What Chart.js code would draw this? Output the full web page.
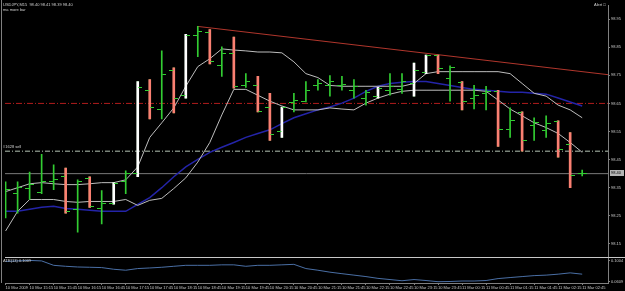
<!DOCTYPE html>
<html>
<head>
<meta charset="utf-8">
<script src="https://cdn.jsdelivr.net/npm/chart.js@4.4.1/dist/chart.umd.min.js"></script>
<style>
  html, body { margin: 0; padding: 0; background: #000; }
  #wrap { position: relative; width: 625px; height: 291px; overflow: hidden; }
  canvas { display: block; }
  .lbl { position: absolute; color: #d0d0d0; font-family: "Liberation Sans", Arial, sans-serif; font-size: 4px; line-height: 4px; white-space: nowrap; }
</style>
</head>
<body>
<div id="wrap">
  <canvas id="fx" width="625" height="291"></canvas>
  <div class="lbl" style="left:3px;top:3px">USDJPY,M15&nbsp; 98.40 98.41 98.39 98.40</div>
  <div class="lbl" style="left:3px;top:8px">ma more bar</div>
  <div class="lbl" style="left:594px;top:3px">Alert &#9633;</div>
  <div class="lbl" style="left:3px;top:145px">#1628 sell</div>
  <div class="lbl" style="left:3px;top:259px">ATR(13) 0.1009</div>
</div>
<script>
// USDJPY M15, 10 Mar 2009 14:45 -> 11 Mar 02:45
const opens  = [98.312, 98.329, 98.347, 98.333, 98.371, 98.389, 98.273, 98.382, 98.276, 98.294,
                98.371, 98.399, 98.697, 98.630, 98.767, 98.679, 98.893, 98.903, 98.784, 98.826,
                98.714, 98.714, 98.634, 98.550, 98.655, 98.658, 98.714, 98.714, 98.714, 98.697,
                98.669, 98.676, 98.697, 98.700, 98.721, 98.760, 98.819, 98.739, 98.725, 98.669,
                98.686, 98.693, 98.556, 98.616, 98.571, 98.553, 98.585, 98.504, 98.402];
const highs  = [98.371, 98.371, 98.406, 98.469, 98.431, 98.420, 98.378, 98.389, 98.340, 98.368,
                98.410, 98.728, 98.735, 98.837, 98.777, 98.896, 98.924, 98.913, 98.851, 98.886,
                98.756, 98.746, 98.686, 98.637, 98.686, 98.728, 98.735, 98.749, 98.746, 98.735,
                98.697, 98.707, 98.756, 98.756, 98.794, 98.822, 98.822, 98.784, 98.728, 98.714,
                98.711, 98.697, 98.634, 98.620, 98.599, 98.606, 98.588, 98.546, 98.413];
const lows   = [98.242, 98.259, 98.308, 98.329, 98.343, 98.259, 98.192, 98.280, 98.221, 98.291,
                98.329, 98.389, 98.595, 98.595, 98.616, 98.669, 98.816, 98.791, 98.746, 98.704,
                98.707, 98.620, 98.518, 98.529, 98.620, 98.655, 98.697, 98.676, 98.697, 98.669,
                98.644, 98.669, 98.679, 98.686, 98.676, 98.756, 98.756, 98.658, 98.627, 98.630,
                98.627, 98.497, 98.529, 98.480, 98.518, 98.529, 98.459, 98.350, 98.392];
const closes = [98.343, 98.350, 98.361, 98.371, 98.378, 98.266, 98.371, 98.284, 98.294, 98.364,
                98.399, 98.707, 98.637, 98.753, 98.669, 98.893, 98.907, 98.798, 98.826, 98.711,
                98.728, 98.623, 98.539, 98.634, 98.662, 98.697, 98.721, 98.728, 98.718, 98.711,
                98.690, 98.704, 98.711, 98.728, 98.767, 98.819, 98.774, 98.777, 98.658, 98.679,
                98.693, 98.556, 98.588, 98.518, 98.581, 98.578, 98.487, 98.392, 98.402];
// g = plain bar, r = salmon overlay, w = white overlay
const barKinds = ['g','g','g','g','g','r','g','r','g','w',
                  'g','w','r','g','r','w','g','r','g','r',
                  'g','r','r','w','g','g','g','g','g','g',
                  'g','w','g','g','w','w','r','g','r','g',
                  'g','r','g','r','g','g','r','r','g'];

const maFast = [98.336, 98.350, 98.364, 98.368, 98.364, 98.361, 98.361, 98.364, 98.368, 98.368,
                98.378, 98.424, 98.529, 98.581, 98.634, 98.711, 98.781, 98.809, 98.844, 98.840,
                98.837, 98.833, 98.833, 98.830, 98.798, 98.756, 98.742, 98.714, 98.711, 98.711,
                98.711, 98.711, 98.711, 98.711, 98.721, 98.756, 98.763, 98.763, 98.763, 98.763,
                98.763, 98.763, 98.756, 98.721, 98.686, 98.676, 98.644, 98.627, 98.599];
const maSlow = [98.196, 98.266, 98.308, 98.308, 98.308, 98.301, 98.298, 98.301, 98.301, 98.301,
                98.308, 98.287, 98.305, 98.312, 98.347, 98.385, 98.441, 98.511, 98.609, 98.700,
                98.700, 98.679, 98.658, 98.641, 98.627, 98.627, 98.627, 98.634, 98.630, 98.627,
                98.651, 98.669, 98.683, 98.693, 98.697, 98.697, 98.697, 98.697, 98.697, 98.697,
                98.693, 98.662, 98.630, 98.606, 98.581, 98.564, 98.543, 98.511, 98.476];
const maBlue = [98.266, 98.266, 98.273, 98.280, 98.284, 98.276, 98.273, 98.270, 98.266, 98.266,
                98.266, 98.291, 98.315, 98.350, 98.389, 98.424, 98.451, 98.476, 98.494, 98.511,
                98.529, 98.543, 98.556, 98.578, 98.599, 98.613, 98.627, 98.637, 98.651, 98.669,
                98.693, 98.711, 98.721, 98.725, 98.728, 98.728, 98.721, 98.714, 98.707, 98.700,
                98.697, 98.693, 98.690, 98.690, 98.686, 98.683, 98.669, 98.655, 98.641];
const atr    = [0.0986, 0.0995, 0.1004, 0.0995, 0.0913, 0.0895, 0.0882, 0.0877, 0.0871, 0.0840,
                0.0822, 0.0853, 0.0864, 0.0877, 0.0895, 0.0913, 0.0913, 0.0913, 0.0922, 0.0922,
                0.0895, 0.0913, 0.0913, 0.0922, 0.0931, 0.0853, 0.0822, 0.0786, 0.0758, 0.0731,
                0.0704, 0.0671, 0.0649, 0.0627, 0.0649, 0.0631, 0.0609, 0.0613, 0.0622, 0.0622,
                0.0631, 0.0667, 0.0686, 0.0704, 0.0722, 0.0731, 0.0749, 0.0773, 0.0749];

const trendX = [16, 50.2];
const trendY = [98.924, 98.752];
const redLevel = 98.65;
const sellLevel = 98.48;
const bidLevel = 98.40;

const timeLabels = ['10 Mar 2009', '10 Mar 15:15', '10 Mar 15:45', '10 Mar 16:15', '10 Mar 16:45',
                    '10 Mar 17:15', '10 Mar 17:45', '10 Mar 18:15', '10 Mar 18:45', '10 Mar 19:15',
                    '10 Mar 19:45', '10 Mar 20:15', '10 Mar 20:45', '10 Mar 21:15', '10 Mar 21:45',
                    '10 Mar 22:15', '10 Mar 22:45', '10 Mar 23:15', '10 Mar 23:45', '11 Mar 00:15',
                    '11 Mar 00:45', '11 Mar 01:15', '11 Mar 01:45', '11 Mar 02:15', '11 Mar 02:45'];
const priceTicks = [98.15, 98.20, 98.25, 98.30, 98.35, 98.40, 98.45, 98.50, 98.55,
                    98.60, 98.65, 98.70, 98.75, 98.80, 98.85, 98.90, 98.95, 99.00];
const atrTicks = [0.0609, 0.1004];

const GREEN = '#32cd32';
const SALMON = '#fa8072';
const AXIS = '#808080';
const TEXT = '#c8c8c8';
const X_MIN = -0.05, X_MAX = 50.15;

// little open/close ticks as point images
function tickImage(left) {
  const c = document.createElement('canvas');
  c.width = 9; c.height = 1;
  const g = c.getContext('2d');
  g.fillStyle = GREEN;
  g.fillRect(left ? 0 : 5, 0, 4, 1);
  return c;
}

const idx = opens.map((_, i) => i);
const ranges = idx.map(i => ({ x: i, y: [lows[i], highs[i]] }));
const overlay = k => idx.filter(i => barKinds[i] === k).map(i => ({ x: i, y: [lows[i], highs[i]] }));
const series = arr => arr.map((v, i) => ({ x: i, y: v }));
const level = v => [{ x: X_MIN, y: v }, { x: X_MAX, y: v }];

const frame = {
  id: 'frame',
  afterDraw(chart) {
    const { ctx, chartArea: a } = chart;
    const y = chart.scales.y, y2 = chart.scales.y2;
    ctx.save();
    ctx.lineWidth = 1;
    ctx.strokeStyle = '#c8c8c8';
    const sep = Math.round(Math.min(y.bottom, y2.top)) + 0.5;
    ctx.beginPath(); ctx.moveTo(a.left, sep); ctx.lineTo(chart.width, sep); ctx.stroke();
    ctx.strokeStyle = AXIS;
    ctx.beginPath(); ctx.moveTo(1.5, 0); ctx.lineTo(1.5, a.bottom); ctx.stroke();
    // bid price box on the axis
    const last = closes[closes.length - 1];
    const py = Math.round(y.getPixelForValue(last));
    ctx.fillStyle = '#b4b4b4';
    ctx.fillRect(a.right + 2, py - 3, 14, 6);
    ctx.fillStyle = '#000';
    ctx.font = '4px "Liberation Sans", Arial, sans-serif';
    ctx.textBaseline = 'middle';
    ctx.fillText(last.toFixed(2), a.right + 3, py);
    ctx.restore();
  }
};

new Chart(document.getElementById('fx'), {
  data: {
    datasets: [
      { type: 'scatter', data: series(opens), pointStyle: tickImage(true), pointRadius: 3, order: 0 },
      { type: 'scatter', data: series(closes), pointStyle: tickImage(false), pointRadius: 3, order: 0 },
      { type: 'bar', data: overlay('r'), backgroundColor: SALMON, barThickness: 2, grouped: false, order: 1 },
      { type: 'bar', data: overlay('w'), backgroundColor: '#ffffff', barThickness: 2, grouped: false, order: 1 },
      { type: 'bar', data: ranges, backgroundColor: GREEN, barThickness: 1, grouped: false, order: 2 },
      { type: 'line', data: series(maFast), borderColor: '#bdbdbd', borderWidth: 1, pointRadius: 0, order: 3 },
      { type: 'line', data: series(maSlow), borderColor: '#bdbdbd', borderWidth: 1, pointRadius: 0, order: 3 },
      { type: 'line', data: series(maBlue), borderColor: '#2424a8', borderWidth: 1.5, pointRadius: 0, order: 3 },
      { type: 'line', data: trendX.map((x, i) => ({ x, y: trendY[i] })), borderColor: '#b0362c', borderWidth: 1, pointRadius: 0, order: 3 },
      { type: 'line', data: level(redLevel), borderColor: '#b01c1c', borderWidth: 1, borderDash: [6, 2, 1, 2], pointRadius: 0, order: 4 },
      { type: 'line', data: level(sellLevel), borderColor: '#b4c4b4', borderWidth: 1, borderDash: [5, 2, 1, 2], pointRadius: 0, order: 4 },
      { type: 'line', data: level(bidLevel), borderColor: '#7a7a7a', borderWidth: 1, pointRadius: 0, order: 4 },
      { type: 'line', data: series(atr), yAxisID: 'y2', borderColor: '#4a6fa5', borderWidth: 1, pointRadius: 0, order: 3 }
    ]
  },
  options: {
    responsive: false,
    animation: false,
    events: [],
    layout: { padding: { left: 2, top: 0, right: 0, bottom: 0 } },
    plugins: { legend: { display: false }, tooltip: { enabled: false } },
    scales: {
      x: {
        type: 'linear', min: X_MIN, max: X_MAX, offset: false,
        afterBuildTicks: s => { s.ticks = timeLabels.map((_, k) => ({ value: 2 * k })); },
        afterFit: s => { s.height = 8; },
        ticks: {
          callback: (v, k) => timeLabels[k],
          color: TEXT, font: { size: 4, family: '"Liberation Sans", Arial, sans-serif' },
          align: 'start', maxRotation: 0, autoSkip: false, padding: 0
        },
        grid: { drawOnChartArea: false, tickLength: 2, color: AXIS, offset: false },
        border: { color: AXIS }
      },
      y: {
        position: 'right', stack: 'panes', stackWeight: 257,
        min: 98.1017, max: 99.0003,
        afterBuildTicks: s => { s.ticks = priceTicks.map(v => ({ value: v })); },
        afterFit: s => { s.width = 17; },
        ticks: {
          callback: v => v.toFixed(2),
          color: TEXT, font: { size: 4, family: '"Liberation Sans", Arial, sans-serif' }, padding: 1
        },
        grid: { drawOnChartArea: false, tickLength: 2, color: AXIS },
        border: { color: AXIS }
      },
      y2: {
        position: 'right', stack: 'panes', stackWeight: 26,
        min: 0.0585, max: 0.1059,
        afterBuildTicks: s => { s.ticks = atrTicks.map(v => ({ value: v })); },
        afterFit: s => { s.width = 17; },
        ticks: {
          callback: v => v.toFixed(4),
          color: TEXT, font: { size: 4, family: '"Liberation Sans", Arial, sans-serif' }, padding: 1
        },
        grid: { drawOnChartArea: false, tickLength: 2, color: AXIS },
        border: { color: AXIS }
      }
    }
  },
  plugins: [frame]
});
</script>
</body>
</html>
